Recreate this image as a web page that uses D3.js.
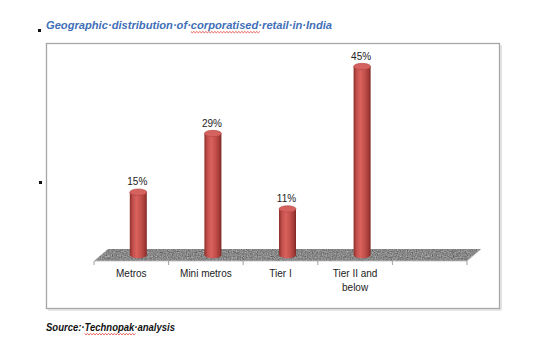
<!DOCTYPE html>
<html><head><meta charset="utf-8">
<script src="https://cdn.jsdelivr.net/npm/d3@7"></script>
<style>html,body{margin:0;padding:0;background:#fff}svg{display:block}</style>
</head><body>
<svg id="c" width="550" height="350"></svg>
<script>
const categories = ["Metros", "Mini metros", "Tier I", "Tier II and below", ""];
const categoryLines = [["Metros"], ["Mini metros"], ["Tier I"], ["Tier II and", "below"], []];
const values = [15, 29, 11, 45, null];
const valueLabels = ["15%", "29%", "11%", "45%", ""];
const titleText = "Geographic·distribution·of·corporatised·retail·in·India";
const sourceText = "Source:·Technopak·analysis";

const svg = d3.select("#c");
const defs = svg.append("defs");

// cylinder gradient
const g1 = defs.append("linearGradient").attr("id","cyl").attr("x1","0").attr("x2","1").attr("y1","0").attr("y2","0");
[[0,"#8e2f2c"],[0.18,"#c24f4b"],[0.4,"#d9625d"],[0.65,"#c4504c"],[0.88,"#a23a37"],[1,"#7d2623"]]
  .forEach(([o,c])=>g1.append("stop").attr("offset",o).attr("stop-color",c));

// floor texture
const f = defs.append("filter").attr("id","granite").attr("x","0").attr("y","0").attr("width","1").attr("height","1")
  .attr("color-interpolation-filters","sRGB");
f.append("feTurbulence").attr("type","fractalNoise").attr("baseFrequency","0.8").attr("numOctaves","2").attr("seed","3").attr("result","n");
f.append("feColorMatrix").attr("in","n").attr("type","matrix")
  .attr("values","0.33 0.33 0.33 0 0  0.33 0.33 0.33 0 0  0.33 0.33 0.33 0 0  0 0 0 0 1").attr("result","g");
f.append("feComponentTransfer").attr("in","g").attr("result","g2")
  .html('<feFuncR type="linear" slope="0.85" intercept="0.11"/><feFuncG type="linear" slope="0.85" intercept="0.11"/><feFuncB type="linear" slope="0.85" intercept="0.11"/>');
f.append("feComposite").attr("in","g2").attr("in2","SourceGraphic").attr("operator","in");

// frame
svg.append("rect").attr("x",46.5).attr("y",43.5).attr("width",453).attr("height",265)
  .attr("fill","#fff").attr("stroke","#a6a6a6").attr("stroke-width",1.3);
svg.append("line").attr("x1",501).attr("x2",501).attr("y1",45).attr("y2",310).attr("stroke","#d0d0d0").attr("stroke-width",1.2);
svg.append("line").attr("x1",48).attr("x2",501).attr("y1",310).attr("y2",310).attr("stroke","#d0d0d0").attr("stroke-width",1.2);

// bullets
svg.append("rect").attr("x",38).attr("y",29).attr("width",3).attr("height",3).attr("fill","#111");
svg.append("rect").attr("x",39).attr("y",181).attr("width",3).attr("height",3).attr("fill","#111");

// title
const title = svg.append("text").attr("x",46).attr("y",29)
  .attr("font-family","Liberation Sans, Arial, sans-serif").attr("font-weight","bold").attr("font-style","italic")
  .attr("font-size",11.5).attr("fill","#3f6fb8")
  .attr("textLength",286).attr("lengthAdjust","spacingAndGlyphs").text(titleText);

const source = svg.append("text").attr("x",46).attr("y",331)
  .attr("font-family","Liberation Sans, Arial, sans-serif").attr("font-weight","bold").attr("font-style","italic")
  .attr("font-size",11).attr("fill","#111")
  .attr("textLength",129).attr("lengthAdjust","spacingAndGlyphs").text(sourceText);

function squiggle(textSel, word, y) {
  const node = textSel.node();
  const s = node.textContent.indexOf(word);
  const x0 = node.getStartPositionOfChar(s).x;
  const x1 = node.getEndPositionOfChar(s + word.length - 1).x;
  let d = `M${x0},${y}`;
  for (let x = x0, k = 0; x < x1; x += 1.5, k++) d += `L${x+1.5},${y + (k % 2 ? 0 : 1.3)}`;
  svg.append("path").attr("d", d).attr("fill","none").attr("stroke","#e03030").attr("stroke-width",0.8);
}
squiggle(title, "corporatised", 31.5);
squiggle(source, "Technopak", 333.5);

// scales
const x = d3.scaleBand().domain(categories.map((c,i)=>i)).range([94, 467]).padding(0);
const y = d3.scaleLinear().domain([0, 45]).range([255, 66.5]);
const depthX = 14, depthY = 12;
const floorY = 261;

// floor
const x0 = x.range()[0], x1 = x.range()[1];
svg.append("path")
  .attr("d", `M${x0},${floorY}L${x1},${floorY}L${x1+depthX},${floorY-depthY}L${x0+depthX},${floorY-depthY}Z`)
  .attr("fill","#888").attr("filter","url(#granite)");
svg.append("path")
  .attr("d", `M${x0},${floorY}L${x1},${floorY}L${x1+depthX},${floorY-depthY}`)
  .attr("fill","none").attr("stroke","#bfbfbf").attr("stroke-width",0.8);

// ticks
const tickPos = categories.map((c,i)=>x(i)).concat([x1]);
svg.selectAll(".tick").data(tickPos).join("line")
  .attr("x1",d=>d).attr("x2",d=>d).attr("y1",floorY).attr("y2",floorY+4)
  .attr("stroke","#a0a0a0").attr("stroke-width",1);

// bars (cylinders)
const bw = 17, ry = 3.2;
const barData = values.map((v,i)=>({v,i})).filter(d=>d.v!=null);
const bars = svg.append("g").selectAll("g").data(barData).join("g");
bars.each(function(d){
  const gsel = d3.select(this);
  const cx = x(d.i) + x.bandwidth()/2 + depthX/2;
  const top = y(d.v), base = y(0);
  gsel.append("path")
    .attr("d", `M${cx-bw/2},${top}L${cx-bw/2},${base}A${bw/2},${ry} 0 0 0 ${cx+bw/2},${base}L${cx+bw/2},${top}Z`)
    .attr("fill","url(#cyl)");
  gsel.append("ellipse").attr("cx",cx).attr("cy",top).attr("rx",bw/2).attr("ry",ry)
    .attr("fill","#d4625e").attr("stroke","#b2433f").attr("stroke-width",0.6);
  gsel.append("text").attr("x",cx-1).attr("y",top-7).attr("text-anchor","middle")
    .attr("font-family","Liberation Sans, Arial, sans-serif").attr("font-size",10).attr("fill","#222")
    .text(valueLabels[d.i]);
});

// category labels
svg.append("g").selectAll("text").data(categoryLines).join("text")
  .attr("x",(d,i)=>x(i)+x.bandwidth()/2).attr("y",277).attr("text-anchor","middle")
  .attr("font-family","Liberation Sans, Arial, sans-serif").attr("font-size",10).attr("fill","#222")
  .each(function(lines){
    const t = d3.select(this);
    lines.forEach((l,k)=>t.append("tspan").attr("x",t.attr("x")).attr("dy",k?13.5:0).text(l));
  });
</script>
</body></html>
